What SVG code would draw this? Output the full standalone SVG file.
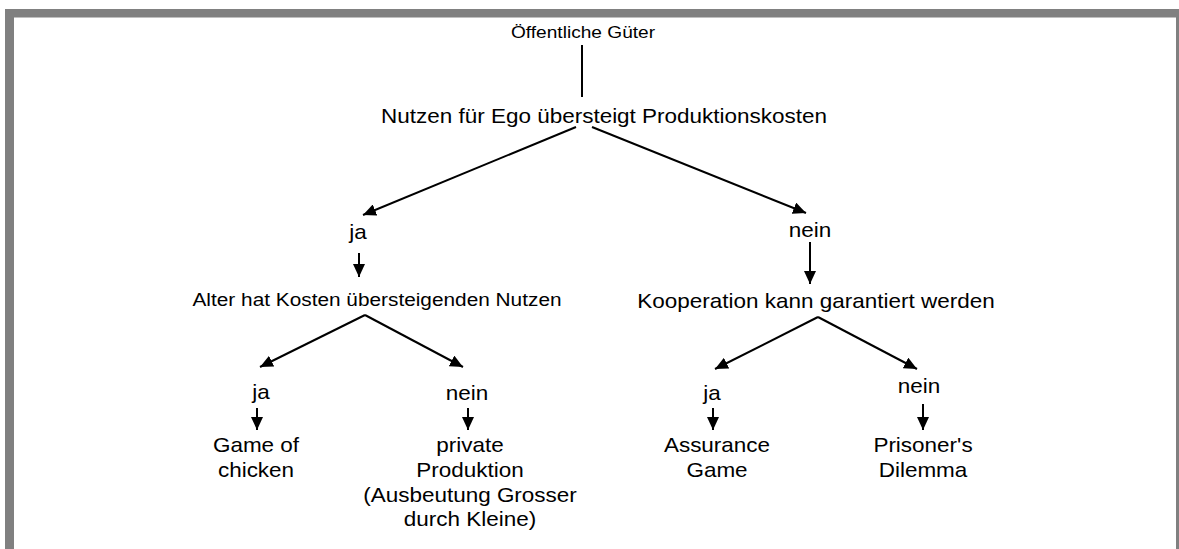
<svg xmlns="http://www.w3.org/2000/svg" width="1179" height="549" viewBox="0 0 1179 549">
<style>
.t{font-family:"Liberation Sans",Arial,sans-serif;fill:#000;text-anchor:middle}
.b{font-size:20px}
.s{font-size:18.5px}
.r{font-size:17px}
.c{stroke:#000;stroke-width:2;fill:none}
</style>
<defs>
<marker id="ah" markerUnits="userSpaceOnUse" markerWidth="14" markerHeight="12" refX="13" refY="6" orient="auto">
<path d="M0,0 L13,6 L0,12 Z" fill="#000"/>
</marker>
</defs>
<rect x="0" y="0" width="1179" height="549" fill="#fff"/>
<g id="frame" fill="#808080">
<rect x="5" y="9" width="1174" height="8.5"/>
<rect x="5" y="9" width="9" height="540"/>
<rect x="1176" y="9" width="3" height="540"/>
</g>
<g id="connectors">
<line class="c" x1="582" y1="45" x2="582" y2="97"/>
<line class="c" x1="576" y1="127" x2="363" y2="215" marker-end="url(#ah)"/>
<line class="c" x1="592" y1="127" x2="806" y2="213" marker-end="url(#ah)"/>
<line class="c" x1="359" y1="253" x2="359" y2="277" marker-end="url(#ah)"/>
<line class="c" x1="810" y1="242" x2="810" y2="284" marker-end="url(#ah)"/>
<line class="c" x1="365" y1="315" x2="260" y2="367" marker-end="url(#ah)"/>
<line class="c" x1="365" y1="315" x2="463" y2="367" marker-end="url(#ah)"/>
<line class="c" x1="818" y1="317" x2="715" y2="369" marker-end="url(#ah)"/>
<line class="c" x1="818" y1="317" x2="917" y2="369" marker-end="url(#ah)"/>
<line class="c" x1="257" y1="408" x2="257" y2="430" marker-end="url(#ah)"/>
<line class="c" x1="468" y1="408" x2="468" y2="430" marker-end="url(#ah)"/>
<line class="c" x1="713" y1="408" x2="713" y2="430" marker-end="url(#ah)"/>
<line class="c" x1="923" y1="404" x2="923" y2="430" marker-end="url(#ah)"/>
</g>
<g id="n-root"><text class="t r" transform="translate(583,38) scale(1.125,1)">Öffentliche Güter</text></g>
<g id="n-nutzen"><text class="t b" transform="translate(604,123) scale(1.125,1)">Nutzen für Ego übersteigt Produktionskosten</text></g>
<g id="n-ja1"><text class="t b" transform="translate(358,239) scale(1.125,1)">ja</text></g>
<g id="n-nein1"><text class="t b" transform="translate(810,237) scale(1.125,1)">nein</text></g>
<g id="n-alter"><text class="t s" transform="translate(377,306) scale(1.125,1)">Alter hat Kosten übersteigenden Nutzen</text></g>
<g id="n-koop"><text class="t b" transform="translate(816,308) scale(1.125,1)">Kooperation kann garantiert werden</text></g>
<g id="n-ja2"><text class="t b" transform="translate(261,399) scale(1.125,1)">ja</text></g>
<g id="n-nein2"><text class="t b" transform="translate(467,400) scale(1.125,1)">nein</text></g>
<g id="n-ja3"><text class="t b" transform="translate(712,400) scale(1.125,1)">ja</text></g>
<g id="n-nein3"><text class="t b" transform="translate(919,393) scale(1.125,1)">nein</text></g>
<g id="n-chicken"><text class="t b" transform="translate(256,452) scale(1.125,1)"><tspan x="0" y="0">Game of</tspan><tspan x="0" y="25">chicken</tspan></text></g>
<g id="n-private"><text class="t b" transform="translate(470,452) scale(1.125,1)"><tspan x="0" y="0">private</tspan><tspan x="0" y="25">Produktion</tspan><tspan x="0" y="50">(Ausbeutung Grosser</tspan><tspan x="0" y="74">durch Kleine)</tspan></text></g>
<g id="n-assurance"><text class="t b" transform="translate(717,452) scale(1.125,1)"><tspan x="0" y="0">Assurance</tspan><tspan x="0" y="25">Game</tspan></text></g>
<g id="n-prisoner"><text class="t b" transform="translate(923,452) scale(1.125,1)"><tspan x="0" y="0">Prisoner's</tspan><tspan x="0" y="25">Dilemma</tspan></text></g>
</svg>
